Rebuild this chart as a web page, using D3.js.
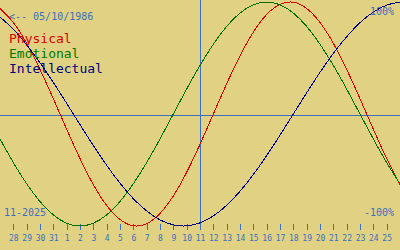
<!DOCTYPE html>
<html><head><meta charset="utf-8">
<script src="https://cdn.jsdelivr.net/npm/d3@7"></script>
<style>
html,body{margin:0;padding:0;background:#e0d282;}
svg{display:block;}
text{font-family:"DejaVu Sans Mono",monospace;}
</style></head>
<body>
<svg id="chart" width="400" height="250"></svg>
<script>
// Days shown: index 0 = 27 Oct 2025 ... index 30 = 26 Nov 2025
const dayIndex = d3.range(0, 31);
const tickLabels = ["28","29","30","31","1","2","3","4","5","6","7","8","9","10","11","12","13","14","15","16","17","18","19","20","21","22","23","24","25"];
const physical = [0.942,0.817,0.631,0.398,0.136,-0.136,-0.398,-0.631,-0.817,-0.942,-0.998,-0.979,-0.888,-0.731,-0.520,-0.270,0,0.270,0.520,0.731,0.888,0.979,0.998,0.942,0.817,0.631,0.398,0.136,-0.136,-0.398,-0.631];
const emotional = [-0.223,-0.434,-0.623,-0.782,-0.901,-0.975,-1,-0.975,-0.901,-0.782,-0.623,-0.434,-0.223,0,0.223,0.434,0.623,0.782,0.901,0.975,1,0.975,0.901,0.782,0.623,0.434,0.223,0,-0.223,-0.434,-0.623];
const intellectual = [0.866,0.756,0.618,0.458,0.282,0.095,-0.095,-0.282,-0.458,-0.618,-0.756,-0.866,-0.945,-0.990,-0.999,-0.972,-0.910,-0.815,-0.690,-0.541,-0.372,-0.189,0,0.189,0.372,0.541,0.690,0.815,0.910,0.972,0.999];
const seriesNames = ["Physical","Emotional","Intellectual"];
const seriesColors = ["#e00000","#007000","#000080"];
const legendColors = ["#d80000","#007a00","#000080"];
const todayIndex = 15;
const birthLabel = "<-- 05/10/1986";
const monthLabel = "11-2025";

const W = 400, H = 250, plotH = 230;
const blue = "#3b6fc0";
const svg = d3.select("#chart");

const x = d3.scaleLinear().domain([0, 30]).range([0, W]);
const y = d3.scaleLinear().domain([-1, 1]).range([226, 2]);

// center line and today line
svg.append("line").attr("x1", 0).attr("x2", W).attr("y1", plotH/2 + 0.5).attr("y2", plotH/2 + 0.5)
  .attr("stroke", blue).attr("stroke-width", 1);
svg.append("line").attr("x1", x(todayIndex) + 0.5).attr("x2", x(todayIndex) + 0.5).attr("y1", 0).attr("y2", plotH)
  .attr("stroke", blue).attr("stroke-width", 1);

// axis
const axis = d3.axisBottom(x)
  .tickValues(d3.range(1, 30))
  .tickFormat((d, i) => tickLabels[i])
  .tickSize(6).tickPadding(5);
const ax = svg.append("g").attr("transform", "translate(0,224)").call(axis);
ax.select(".domain").remove();
ax.selectAll("line").attr("stroke", blue).attr("shape-rendering", "crispEdges");
ax.selectAll("text").attr("fill", blue).style("font-size", "8px").style("font-family", "'DejaVu Sans Mono', monospace");

// curves
const line = d3.line().x((d, i) => x(dayIndex[i])).y(d => y(d)).curve(d3.curveNatural);
[physical, emotional, intellectual].forEach((s, k) => {
  svg.append("path").datum(s).attr("d", line).attr("fill", "none")
    .attr("stroke", seriesColors[k]).attr("stroke-width", 1)
    .attr("shape-rendering", "crispEdges");
});

// texts
svg.append("text").attr("x", 9).attr("y", 20).attr("fill", blue).style("font-size", "10px").text(birthLabel);
seriesNames.forEach((n, k) => {
  svg.append("text").attr("x", 9).attr("y", 43 + k * 15).attr("fill", legendColors[k]).style("font-size", "13px").text(n);
});
svg.append("text").attr("x", 394).attr("y", 15).attr("text-anchor", "end").attr("fill", blue).style("font-size", "10px").text("100%");
svg.append("text").attr("x", 394).attr("y", 216).attr("text-anchor", "end").attr("fill", blue).style("font-size", "10px").text("-100%");
svg.append("text").attr("x", 4).attr("y", 216).attr("fill", blue).style("font-size", "10px").text(monthLabel);
</script>
</body></html>
